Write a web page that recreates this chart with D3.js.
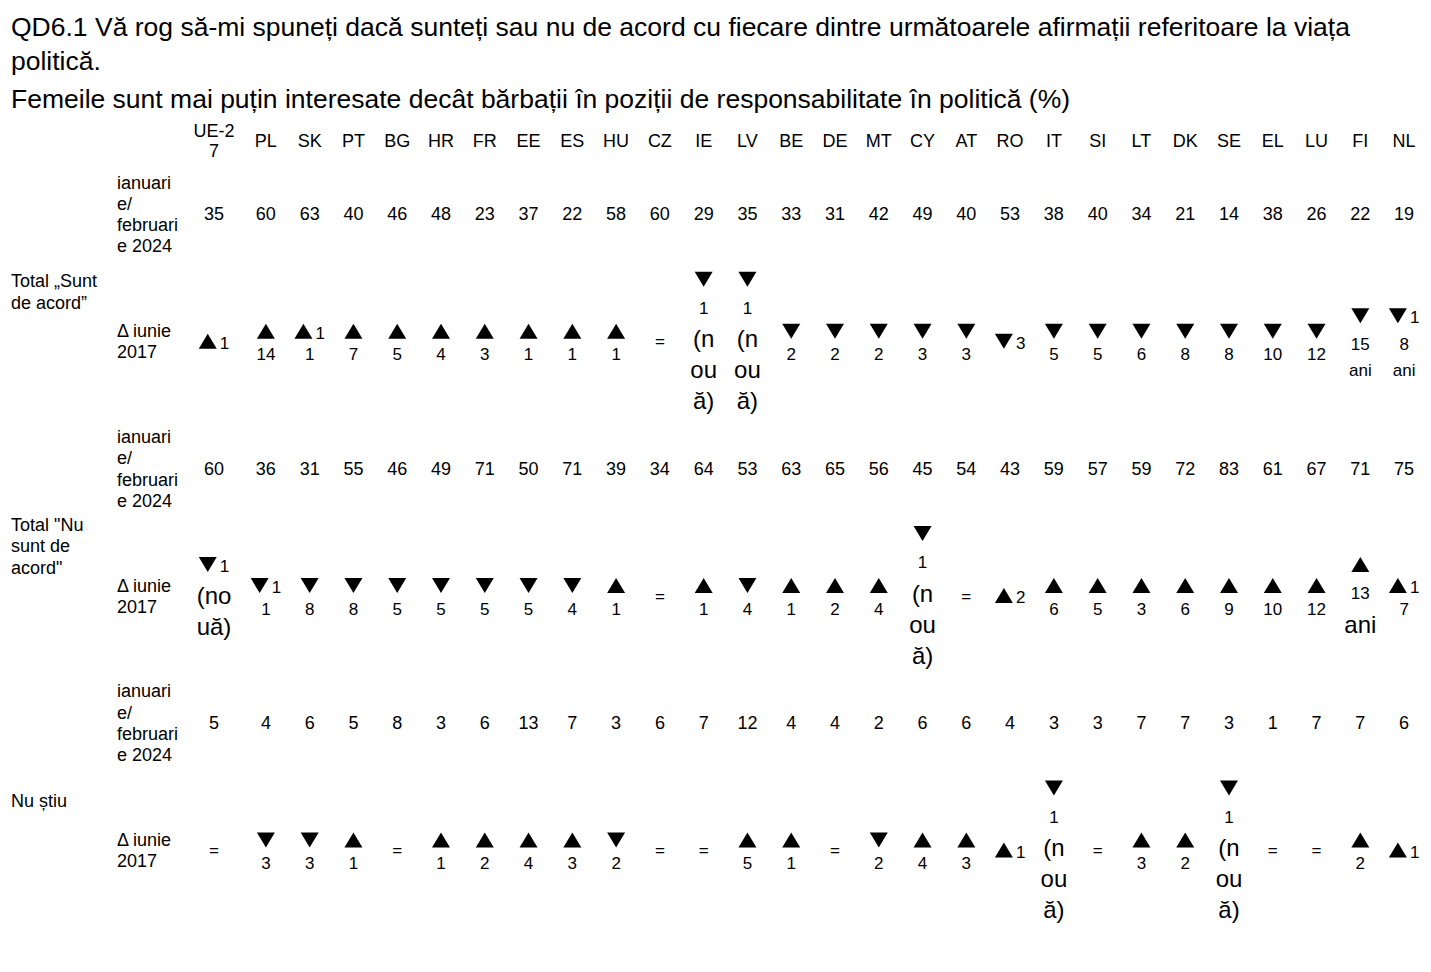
<!DOCTYPE html>
<html>
<head>
<meta charset="utf-8">
<script src="https://cdn.jsdelivr.net/npm/d3@7"></script>
<style>
  body { margin: 0; background: #fff; }
  text { font-family: "Liberation Sans", Arial, sans-serif; fill: #000; }
</style>
</head>
<body>
<div id="chart"></div>
<script>
// columns
var countries = ["UE-27", "PL", "SK", "PT", "BG", "HR", "FR", "EE", "ES", "HU", "CZ", "IE", "LV", "BE", "DE", "MT", "CY", "AT", "RO", "IT", "SI", "LT", "DK", "SE", "EL", "LU", "FI", "NL"];

// ianuarie/februarie 2024 (%)
var agree2024 = [35, 60, 63, 40, 46, 48, 23, 37, 22, 58, 60, 29, 35, 33, 31, 42, 49, 40, 53, 38, 40, 34, 21, 14, 38, 26, 22, 19];
var disagree2024 = [60, 36, 31, 55, 46, 49, 71, 50, 71, 39, 34, 64, 53, 63, 65, 56, 45, 54, 43, 59, 57, 59, 72, 83, 61, 67, 71, 75];
var dontKnow2024 = [5, 4, 6, 5, 8, 3, 6, 13, 7, 3, 6, 7, 12, 4, 4, 2, 6, 6, 4, 3, 3, 7, 7, 3, 1, 7, 7, 6];

// Δ iunie 2017, as printed in the cells (line breaks as in the source)
var agreeDelta = ["▲1", "▲\n14", "▲1\n1", "▲\n7", "▲\n5", "▲\n4", "▲\n3", "▲\n1", "▲\n1", "▲\n1", "=",
  "▼\n1 \n(n\nou\nă)", "▼\n1 \n(n\nou\nă)", "▼\n2", "▼\n2", "▼\n2", "▼\n3", "▼\n3", "▼3", "▼\n5", "▼\n5",
  "▼\n6", "▼\n8", "▼\n8", "▼\n10", "▼\n12", "▼\n15 \nani", "▼1\n8 \nani"];
var disagreeDelta = ["▼1 \n(no\nuă)", "▼1\n1", "▼\n8", "▼\n8", "▼\n5", "▼\n5", "▼\n5", "▼\n5", "▼\n4", "▲\n1", "=",
  "▲\n1", "▼\n4", "▲\n1", "▲\n2", "▲\n4", "▼\n1 \n(n\nou\nă)", "=", "▲2", "▲\n6", "▲\n5",
  "▲\n3", "▲\n6", "▲\n9", "▲\n10", "▲\n12", "▲\n13 \nani", "▲1\n7"];
var dontKnowDelta = ["=", "▼\n3", "▼\n3", "▲\n1", "=", "▲\n1", "▲\n2", "▲\n4", "▲\n3", "▼\n2", "=",
  "=", "▲\n5", "▲\n1", "=", "▼\n2", "▲\n4", "▲\n3", "▲1", "▼\n1 \n(n\nou\nă)", "=",
  "▲\n3", "▲\n2", "▼\n1 \n(n\nou\nă)", "=", "=", "▲\n2", "▲1"];

var titleLines = ["QD6.1 Vă rog să-mi spuneți dacă sunteți sau nu de acord cu fiecare dintre următoarele afirmații referitoare la viața", "politică."];
var subtitle = "Femeile sunt mai puțin interesate decât bărbații în poziții de responsabilitate în politică (%)";
var valueLabel = "ianuari\ne/\nfebruari\ne 2024";
var deltaLabel = "Δ iunie\n2017";

var blocks = [
  {key: "agree", label: "Total „Sunt\nde acord”", values: agree2024, deltas: agreeDelta, aniBig: false},
  {key: "disagree", label: "Total \"Nu\nsunt de\nacord\"", values: disagree2024, deltas: disagreeDelta, aniBig: true},
  {key: "dk", label: "Nu știu", values: dontKnow2024, deltas: dontKnowDelta, aniBig: false}
];

var width = 1431, height = 972;
var svg = d3.select("#chart").append("svg")
  .attr("width", width)
  .attr("height", height);

var firstColWidth = 60;
var colX = d3.scaleBand()
  .domain(countries.slice(1))
  .range([244, 1426]);
function xCenter(c) {
  if (c === countries[0]) return colX.range()[0] - firstColWidth / 2;
  return colX(c) + colX.bandwidth() / 2;
}

var rowKeys = [];
blocks.forEach(function (b) { rowKeys.push(b.key + "-val", b.key + "-delta"); });
var y = d3.scalePoint().domain(rowKeys).range([214, 850]);

var smallSize = 17, bigSize = 24, textSize = 18;

// title
svg.selectAll(".title")
  .data(titleLines)
  .enter().append("text")
  .attr("class", "title")
  .attr("x", 11)
  .attr("y", function (d, i) { return 36 + i * 34; })
  .style("font-size", "26.5px")
  .text(function (d) { return d; });

svg.append("text")
  .attr("x", 11)
  .attr("y", 108)
  .style("font-size", "26.5px")
  .text(subtitle);

// multi-line plain text, centred vertically on cy
function multiLine(g, str, x, cy, lh, anchor, size) {
  var lines = str.split("\n");
  var t = g.append("text")
    .attr("text-anchor", anchor)
    .style("font-size", size + "px");
  t.selectAll("tspan")
    .data(lines)
    .enter().append("tspan")
    .attr("x", x)
    .attr("y", function (d, i) { return cy + (i - (lines.length - 1) / 2) * lh + size * 0.36; })
    .text(function (d) { return d; });
}

// header
var header = svg.append("g");
countries.forEach(function (c, i) {
  var label = i === 0 ? "UE-2\n7" : c;
  multiLine(header, label, xCenter(c), 141, 20, "middle", textSize);
});

function triangle(g, x0, cy, dir) {
  var w = 18, h = 15;
  var p = d3.path();
  if (dir === "▲") {
    p.moveTo(x0, cy + h / 2); p.lineTo(x0 + w, cy + h / 2); p.lineTo(x0 + w / 2, cy - h / 2);
  } else {
    p.moveTo(x0, cy - h / 2); p.lineTo(x0 + w, cy - h / 2); p.lineTo(x0 + w / 2, cy + h / 2);
  }
  p.closePath();
  g.append("path").attr("d", p.toString()).attr("fill", "#000");
}

function drawDelta(g, str, cx, cy, aniBig) {
  var lines = str.split("\n").map(function (s) {
    var arrow = (s[0] === "▲" || s[0] === "▼") ? s[0] : null;
    var txt = (arrow ? s.slice(1) : s).trim();
    var isWord = /[a-zăâîșț()]/i.test(txt);
    var big = isWord && (txt !== "ani" || aniBig);
    var h = (/ $/.test(s) || big) ? 31 : arrow ? 26 : 20;
    return {arrow: arrow, txt: txt, big: big, h: h};
  });
  var total = d3.sum(lines, function (d) { return d.h; });
  var top = cy - total / 2;
  lines.forEach(function (l) {
    var lc = top + l.h / 2;
    top += l.h;
    if (l.arrow) {
      var t = null, tw = 0;
      if (l.txt) {
        t = g.append("text").style("font-size", smallSize + "px").text(l.txt);
        tw = t.node().getComputedTextLength();
      }
      var gw = l.txt ? 21 + tw : 18;
      var x0 = cx - gw / 2;
      triangle(g, x0, lc, l.arrow);
      if (t) t.attr("x", x0 + 21).attr("y", lc + 7.5);
    } else {
      var size = l.big ? bigSize : smallSize;
      g.append("text")
        .attr("x", cx)
        .attr("y", lc + size * 0.36)
        .attr("text-anchor", "middle")
        .style("font-size", size + "px")
        .text(l.txt);
    }
  });
}

blocks.forEach(function (b) {
  var g = svg.append("g").attr("class", "block-" + b.key);
  var yv = y(b.key + "-val"), yd = y(b.key + "-delta");

  multiLine(g, b.label, 11, (yv + yd) / 2 + 14, 21.5, "start", textSize);
  multiLine(g, valueLabel, 117, yv, 21.3, "start", textSize);
  multiLine(g, deltaLabel, 117, yd, 21, "start", textSize);

  g.selectAll(".val")
    .data(b.values)
    .enter().append("text")
    .attr("class", "val")
    .attr("x", function (d, i) { return xCenter(countries[i]); })
    .attr("y", yv + textSize * 0.36)
    .attr("text-anchor", "middle")
    .style("font-size", textSize + "px")
    .text(function (d) { return d; });

  b.deltas.forEach(function (d, i) {
    drawDelta(g, d, xCenter(countries[i]), yd, b.aniBig);
  });
});
</script>
</body>
</html>
